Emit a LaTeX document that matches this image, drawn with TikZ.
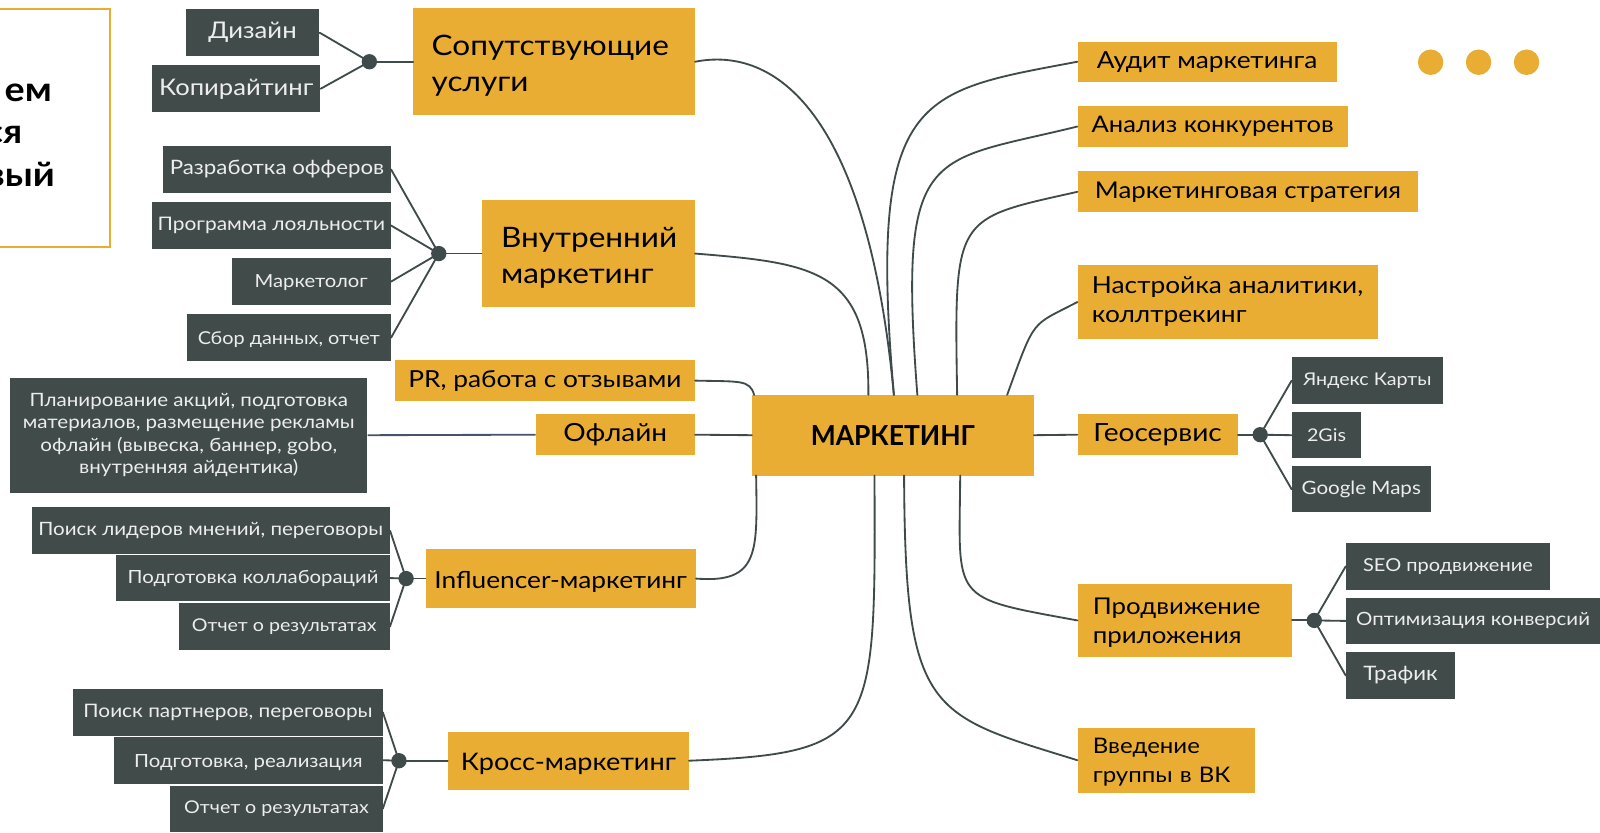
\documentclass[tikz,border=0pt]{standalone}
\usepackage{fontspec}
\setmainfont[FakeStretch=1.12]{Lato}
\newfontfamily\mkfont[FakeStretch=0.96]{Lato}
\definecolor{org}{HTML}{E9AD34}
\definecolor{drk}{HTML}{414B4A}
\definecolor{lnk}{HTML}{3F4A4A}
\definecolor{txl}{HTML}{EDEDED}
\definecolor{blu}{HTML}{44546A}
\newcommand{\bx}[7]{\node[#2,minimum width={(#5-#3)*1pt},minimum height={(#6-#4)*1pt}] (#1) at ({(#3+#5)/2},{(#4+#6)/2}) {#7};}
\newcommand{\dn}[1]{\rule{0pt}{#1pt}}
\tikzset{
 x=1pt,y=-1pt,
 fs/.style={font=\fontsize{#1}{22}\selectfont},
 dk/.style={fill=drk,text=txl,font=\fontsize{18}{22}\selectfont,inner sep=0pt,align=center},
 og/.style={fill=org,text=black,font=\fontsize{23}{28.5}\selectfont,inner sep=0pt,align=left},
 ogl/.style={fill=org,text=black,font=\fontsize{27.6}{36}\selectfont,inner sep=0pt,align=left},
 tw/.style={text width={(#1)*1pt}},
 ln/.style={draw=lnk,line width=1.8pt,line cap=round},
 hub/.style={circle,fill=lnk,minimum size=15pt,inner sep=0pt},
 pip/.style={circle,fill=org,minimum size=25pt,inner sep=0pt},
 cut/.style={font=\fontsize{33}{38}\selectfont\bfseries,anchor=east,inner sep=0pt,text=black}
}
\begin{document}
\begin{tikzpicture}
\useasboundingbox (0,0) rectangle (1568,815.4);
% note box
\node[draw=org,line width=1.6pt,minimum width=128pt,minimum height=233pt,inner sep=0pt] (note) at (44,125.5) {};
\node[cut] (n1) at (51,91) {ем};
\node[cut] (n2) at (22,132) {ся};
\node[cut] (n3) at (54,171) {вый};
% pips
\node[pip] (p1) at (1402,61) {};
\node[pip] (p2) at (1449,61) {};
\node[pip] (p3) at (1496,61) {};
% centre
\bx{mk}{og,font=\fontsize{27}{34}\mkfont\bfseries,align=center}{737}{387}{1013}{466}{МАРКЕТИНГ}
% left orange
\bx{su}{ogl,tw=240}{405}{8}{681}{113}{\dn{28}Сопутствующие\\услуги}
\bx{vn}{ogl,tw=171}{472}{196}{681}{301}{\dn{28}Внутренний\\маркетинг}
\bx{pr}{og}{387}{353}{681}{393}{PR, работа с отзывами}
\bx{of}{og,font=\fontsize{24.5}{28.5}\selectfont}{525}{406}{681}{446}{Офлайн}
\bx{in}{og}{417}{538}{682}{596}{\dn{23}Influencer-маркетинг}
\bx{kr}{og,font=\fontsize{23.7}{28.5}\selectfont}{439}{717}{675}{774}{\dn{22.5}Кросс-маркетинг}
% right orange
\bx{au}{og}{1056}{41}{1310}{80}{Аудит маркетинга}
\bx{an}{og,font=\fontsize{22.4}{28.5}\selectfont}{1056}{104}{1321}{144}{Анализ конкурентов}
\bx{st}{og,font=\fontsize{22.6}{28.5}\selectfont}{1056}{168}{1390}{208}{Маркетинговая стратегия}
\bx{na}{og}{1056}{260}{1350}{332}{Настройка аналитики,\\коллтрекинг}
\bx{ge}{og,font=\fontsize{24.6}{28.5}\selectfont}{1056}{406}{1213}{446}{Геосервис}
\bx{pd}{og,font=\fontsize{22.6}{28.5}\selectfont,tw=180}{1056}{572}{1266}{644}{\dn{20.5}Продвижение\\приложения}
\bx{ve}{og,font=\fontsize{21}{28.5}\selectfont,tw=144}{1056}{713}{1230}{777}{\dn{19}Введение\\группы в ВК}
% dark left
\bx{d1}{dk,fs=22.5}{182}{9}{313}{55}{Дизайн}
\bx{d2}{dk,fs=22.4}{149}{64}{314}{110}{Копирайтинг}
\bx{d3}{dk,fs=19.5}{160}{143}{383}{189}{Разработка офферов}
\bx{d4}{dk,fs=18.3}{149}{198}{383}{244}{Программа лояльности}
\bx{d5}{dk,fs=17.7}{227}{253}{383}{299}{\dn{15}Маркетолог}
\bx{d6}{dk,fs=17.4}{183}{308}{383}{354}{\dn{16}Сбор данных, отчет}
\bx{d7}{dk}{10}{370}{360}{483}{Планирование акций, подготовка\\материалов, размещение рекламы\\офлайн (вывеска, баннер, gobo,\\внутренняя айдентика)}
\bx{d8}{dk}{31}{497}{382}{543}{Поиск лидеров мнений, переговоры}
\bx{d9}{dk,fs=17.8}{114}{544}{382}{589}{Подготовка коллабораций}
\bx{d10}{dk,fs=17.2}{175}{591}{382}{637}{Отчет о результатах}
\bx{d11}{dk,fs=18.2}{72}{675}{375}{721}{Поиск партнеров, переговоры}
\bx{d12}{dk,fs=17.8}{112}{722}{375}{768}{\dn{17}Подготовка, реализация}
\bx{d13}{dk,fs=17.2}{167}{770}{375}{815}{Отчет о результатах}
% dark right
\bx{r1}{dk,fs=17.2}{1266}{350}{1414}{396}{Яндекс Карты}
\bx{r2}{dk,fs=17.2}{1266}{404}{1334}{449}{2Gis}
\bx{r3}{dk}{1266}{457}{1402}{502}{Google Maps}
\bx{r4}{dk,fs=17.5}{1319}{532}{1519}{578}{SEO продвижение}
\bx{r5}{dk,fs=17.9}{1319}{586}{1568}{631}{Оптимизация конверсий}
\bx{r6}{dk,fs=19.5}{1319}{639}{1426}{685}{Трафик}
% hubs
\node[hub] (h1) at (362,60.5) {};
\node[hub] (h2) at (430,248.5) {};
\node[hub] (h3) at (398,567) {};
\node[hub] (h4) at (391,745.5) {};
\node[hub] (h5) at (1235,426) {};
\node[hub] (h6) at (1288,608) {};
% anchor points on the centre box
\coordinate (t1) at (851,387);
\coordinate (t2) at (876,387);
\coordinate (t3) at (899,387);
\coordinate (t4) at (938,387);
\coordinate (t5) at (987,387);
\coordinate (t0) at (739,387);
\coordinate (b0) at (741,466);
\coordinate (b1) at (857,466);
\coordinate (b2) at (886,466);
\coordinate (b3) at (941,466);
% short links
\foreach \a/\b in {d1/h1,d2/h1,d3/h2,d4/h2,d5/h2,d6/h2,d8/h3,d9/h3,d10/h3,d11/h4,d12/h4,d13/h4}
  \draw[ln] (\a.east) -- (\b.center);
\foreach \a/\b in {r1/h5,r2/h5,r3/h5,r4/h6,r5/h6,r6/h6}
  \draw[ln] (\a.west) -- (\b.center);
\draw[ln] (h1.center) -- (su.west);
\draw[ln] (h2.center) -- (vn.west);
\draw[ln] (h3.center) -- (in.west);
\draw[ln] (h4.center) -- (kr.west);
\draw[ln] (ge.east) -- (h5.center);
\draw[ln] (pd.east) -- (h6.center);
\draw[line width=1.8pt,draw=blu] (d7.east) -- (of.west);
\draw[ln] (of.east) -- (mk.west);
\draw[ln] (mk.east) -- (ge.west);
% curves
\draw[ln] (su.east) .. controls (760,45) and (850,110) .. (t2);
\draw[ln] (vn.east) .. controls (800,258) and (852,265) .. (t1);
\draw[ln] (pr.east) .. controls (725,374) and (735,372) .. (t0);
\draw[ln] (in.east) .. controls (745,572) and (742,540) .. (b0);
\draw[ln] (kr.east) .. controls (860,738) and (858,720) .. (b1);
\draw[ln] (au.west) .. controls (900,90) and (850,90) .. (t2);
\draw[ln] (an.west) .. controls (910,160) and (880,140) .. (t3);
\draw[ln] (st.west) .. controls (935,215) and (935,210) .. (t4);
\draw[ln] (na.west) .. controls (1010,320) and (1015,310) .. (t5);
\draw[ln] (pd.west) .. controls (930,585) and (940,590) .. (b3);
\draw[ln] (ve.west) .. controls (910,700) and (887,700) .. (b2);
\end{tikzpicture}
\end{document}
